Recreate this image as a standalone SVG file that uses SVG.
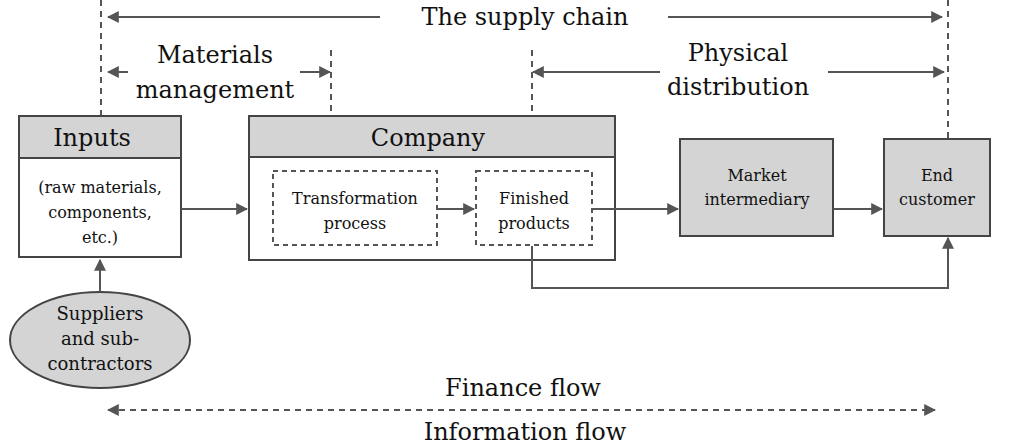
<svg xmlns="http://www.w3.org/2000/svg" width="1024" height="447" viewBox="0 0 1024 447">
<style>
text{font-family:"DejaVu Serif","Liberation Serif",serif;fill:#111;text-anchor:middle}
.big{font-size:24px}.md{font-size:18px}.sm{font-size:16px}
.box{fill:#fff;stroke:#444;stroke-width:2}
.g{fill:#d4d4d4;stroke:#444;stroke-width:2}
.dbox{fill:#fff;stroke:#555;stroke-width:2;stroke-dasharray:5,4}
.ln{stroke:#555;stroke-width:2;fill:none}
.dl{stroke:#555;stroke-width:2;fill:none;stroke-dasharray:6,5}
</style>
<defs><marker id="a" viewBox="0 0 10 10" refX="9" refY="5" markerWidth="6" markerHeight="6" orient="auto-start-reverse"><path d="M0,0L10,5L0,10z" fill="#555"/></marker></defs>
<rect width="1024" height="447" fill="#fff"/>
<text class="big" x="525" y="25">The supply chain</text>
<text class="big" x="215" y="63">Materials</text>
<text class="big" x="215" y="98">management</text>
<text class="big" x="738" y="61">Physical</text>
<text class="big" x="738" y="95">distribution</text>
<g id="inputs"><rect class="box" x="19" y="116" width="162" height="141"/><rect class="g" x="19" y="116" width="162" height="42"/>
<text class="big" x="92" y="146">Inputs</text>
<text class="sm" x="100" y="193">(raw materials,</text><text class="sm" x="100" y="218">components,</text><text class="sm" x="100" y="243">etc.)</text></g>
<g id="company"><rect class="box" x="249" y="116" width="366" height="144"/><rect class="g" x="249" y="116" width="366" height="41"/>
<text class="big" x="428" y="146">Company</text></g>
<g id="transformation"><rect class="dbox" x="273" y="171" width="164" height="74"/><text class="sm" x="355" y="204">Transformation</text><text class="sm" x="355" y="229">process</text></g>
<g id="finished"><rect class="dbox" x="476" y="171" width="116" height="74"/><text class="sm" x="534" y="204">Finished</text><text class="sm" x="534" y="229">products</text></g>
<g id="market"><rect class="g" x="680" y="139" width="153" height="97"/><text class="sm" x="757" y="181">Market</text><text class="sm" x="757" y="205">intermediary</text></g>
<g id="end"><rect class="g" x="884" y="139" width="106" height="97"/><text class="sm" x="937" y="181">End</text><text class="sm" x="937" y="205">customer</text></g>
<g id="suppliers"><ellipse class="g" cx="100" cy="340" rx="90" ry="48"/><text class="md" x="100" y="320">Suppliers</text><text class="md" x="100" y="345">and sub-</text><text class="md" x="100" y="370">contractors</text></g>
<text class="big" x="523" y="396">Finance flow</text>
<text class="big" x="525" y="440">Information flow</text>
<g id="connectors">
<path class="dl" d="M101,0V115M331,50V115M532,50V115"/>
<path class="dl" d="M948,0V138"/>
<path class="ln" d="M108,17H380M668,17H942" marker-start="url(#a)" marker-end="url(#a)"/>
<path class="ln" d="M108,72H128M300,72H330" marker-start="url(#a)" marker-end="url(#a)"/>
<path class="ln" d="M533,72H660M828,72H944" marker-start="url(#a)" marker-end="url(#a)"/>
<path class="ln" d="M100,292V260" marker-end="url(#a)"/>
<path class="ln" d="M181,209H247" marker-end="url(#a)"/>
<path class="ln" d="M438,209H474" marker-end="url(#a)"/>
<path class="ln" d="M593,209H678" marker-end="url(#a)"/>
<path class="ln" d="M833,209H882" marker-end="url(#a)"/>
<path class="ln" d="M532,246V288H948V238" marker-end="url(#a)"/>
<path class="dl" d="M108,410H935" marker-start="url(#a)" marker-end="url(#a)"/>
</g>
</svg>
